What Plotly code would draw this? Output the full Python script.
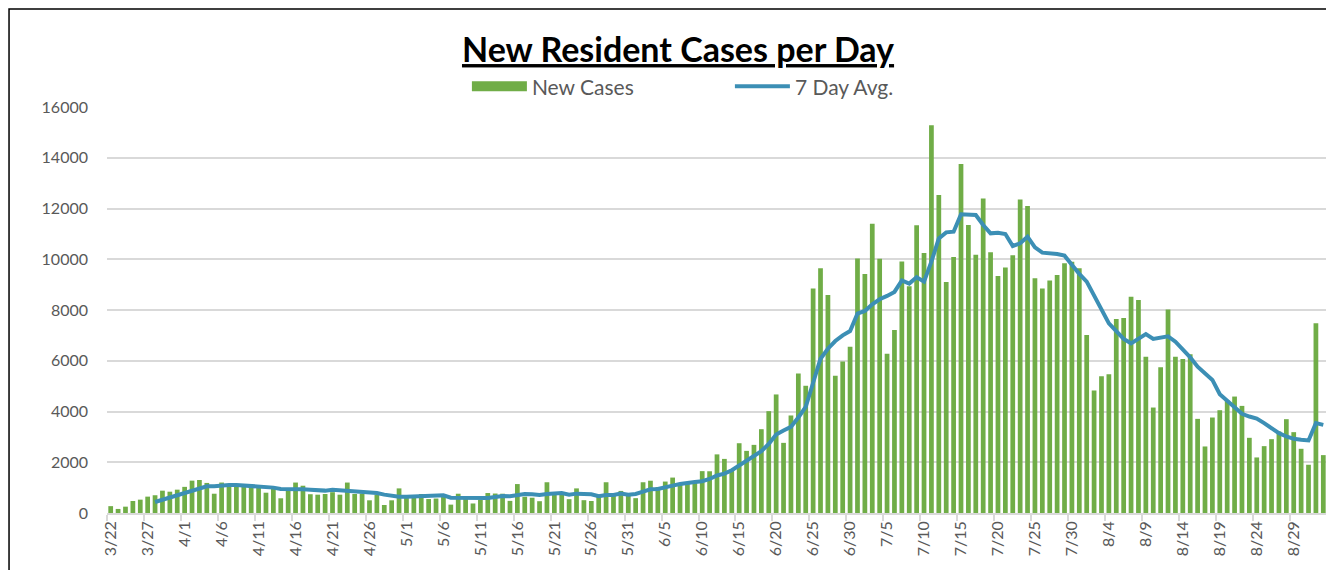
import plotly.graph_objects as go

# Daily new resident cases, one value per day from 3/22 to 9/2
new_cases = [
    270, 160, 250, 474, 526, 645, 700, 880, 840, 920,
    1030, 1275, 1300, 1185, 760, 1200, 1030, 1120, 1120, 1050,
    1030, 800, 990, 580, 950, 1200, 1075, 740, 722, 748,
    820, 722, 1200, 748, 770, 500, 722, 316, 500, 970,
    620, 620, 748, 550, 570, 675, 330, 760, 565, 375,
    525, 787, 767, 760, 478, 1140, 640, 603, 465, 1212,
    722, 750, 545, 970, 505, 472, 700, 1212, 722, 870,
    735, 585, 1212, 1272, 1023, 1239, 1396, 1110, 1158, 1184,
    1650, 1645, 2310, 2132, 1711, 2750, 2448, 2685, 3303, 4014,
    4672, 2764, 3843, 5500, 5014, 8843, 9646, 8593, 5409, 5975,
    6554, 10028, 9423, 11397, 10015, 6277, 7212, 9910, 8935, 11340,
    10247, 15285, 12530, 9105, 10089, 13750, 11349, 10181, 12398, 10273,
    9341, 9670, 10155, 12359, 12097, 9250, 8843, 9158, 9381, 9840,
    9905, 9643, 7019, 4828, 5390, 5469, 7646, 7682, 8522, 8390,
    6162, 4156, 5742, 8023, 6162, 6070, 6253, 3710, 2622, 3763,
    4051, 4440, 4589, 4221, 2963, 2189, 2635, 2910, 3212, 3697,
    3186, 2530, 1901, 7473, 2281,
]

# 7 day average (starts on the 7th day, 3/28)
avg_start = 6
seven_day_avg = [
    434, 526, 605, 684, 763, 868, 974, 1053, 1053, 1092,
    1105, 1105, 1079, 1053, 1053, 1040, 1000, 948, 948, 960,
    934, 915, 895, 882, 915, 895, 908, 855, 855, 829,
    790, 724, 671, 645, 645, 658, 671, 671, 684, 697,
    605, 605, 592, 566, 566, 592, 632, 671, 658, 710,
    750, 737, 710, 750, 763, 790, 724, 763, 750, 737,
    658, 710, 710, 763, 724, 750, 842, 934, 948, 1000,
    1079, 1145, 1198, 1224, 1250, 1340, 1480, 1553, 1684, 1882,
    2079, 2237, 2435, 2724, 3093, 3250, 3395, 3764, 4185, 5132,
    6080, 6475, 6777, 7001, 7172, 7857, 7962, 8225, 8422, 8554,
    8712, 9165, 9040, 9290, 9118, 9906, 10824, 11060, 11086, 11769,
    11769, 11742, 11349, 11021, 11047, 10995, 10522, 10627, 10890, 10470,
    10260, 10234, 10208, 10142, 9774, 9420, 9118, 8567, 8080, 7475,
    7165, 6857, 6686, 6883, 7053, 6857, 6909, 6961, 6752, 6463,
    6135, 5768, 5506, 5244, 4680, 4418, 4169, 3907, 3802, 3723,
    3540, 3343, 3146, 3015, 2923, 2884, 2858, 3540, 3474,
]

tick_labels = [
    "3/22", "3/27", "4/1", "4/6", "4/11", "4/16", "4/21", "4/26",
    "5/1", "5/6", "5/11", "5/16", "5/21", "5/26", "5/31",
    "6/5", "6/10", "6/15", "6/20", "6/25", "6/30",
    "7/5", "7/10", "7/15", "7/20", "7/25", "7/30",
    "8/4", "8/9", "8/14", "8/19", "8/24", "8/29",
]
label_step = 5

n = len(new_cases)
days = list(range(n))
avg_full = [None] * avg_start + seven_day_avg

GREEN = "#70AD47"
BLUE = "#3C8FB5"
GRID = "#D9D9D9"
TXT = "#595959"
FONT = "Lato, Open Sans, sans-serif"

fig = go.Figure()
fig.add_trace(go.Bar(
    x=days, y=new_cases, name="New Cases",
    marker=dict(color=GREEN, line=dict(width=0)),
    showlegend=False,
))
# legend swatch for the bars (wide rectangle like the original)
fig.add_trace(go.Scatter(
    x=[None], y=[None], mode="lines", name="New Cases",
    line=dict(color=GREEN, width=14),
))
fig.add_trace(go.Scatter(
    x=days, y=avg_full, mode="lines", name="7 Day Avg.",
    line=dict(color=BLUE, width=4),
    connectgaps=False,
))

tickvals = list(range(0, n, label_step))[:len(tick_labels)]
boundaries = [v - 0.5 for v in range(0, n + 1, label_step)]
if boundaries[-1] < n - 0.5:
    boundaries.append(n - 0.5)

W, H = 1326, 562
ML, MR, MT, MB = 99, 7, 99, 57

fig.update_layout(
    width=W, height=H,
    margin=dict(l=ML, r=MR, t=MT, b=MB, autoexpand=False),
    paper_bgcolor="white", plot_bgcolor="white",
    bargap=0.36,
    font=dict(family=FONT, color=TXT),
    title=dict(
        text="<b><u>New Resident Cases per Day</u></b>",
        x=0.5053, xanchor="center", xref="container",
        y=0.925, yanchor="middle", yref="container",
        font=dict(size=34, color="#000000", family=FONT),
    ),
    legend=dict(
        orientation="h", x=0.295, xanchor="left", y=1.05, yanchor="middle",
        font=dict(size=21, color=TXT, family=FONT),
        itemwidth=55, entrywidth=193, entrywidthmode="pixels",
        bgcolor="rgba(0,0,0,0)",
        traceorder="normal",
    ),
    xaxis=dict(
        range=[-0.5, n - 0.5],
        tickmode="array", tickvals=tickvals, ticktext=tick_labels,
        tickangle=-90, ticks="", showgrid=False,
        showline=True, linecolor=GRID, linewidth=1.5,
        tickfont=dict(size=16, color=TXT, family=FONT),
        minor=dict(tickmode="array", tickvals=boundaries, ticks="outside",
                   ticklen=6, tickcolor=GRID, tickwidth=1.5, showgrid=False),
        zeroline=False, fixedrange=True,
    ),
    yaxis=dict(
        range=[0, 16000], dtick=2000, tick0=0, tickformat="d",
        showgrid=True, gridcolor=GRID, gridwidth=1.5,
        zeroline=False, showline=False, ticks="",
        tickfont=dict(size=16, color=TXT, family=FONT),
        ticklabelstandoff=18,
    ),
    shapes=[dict(
        type="rect", xref="paper", yref="paper",
        x0=-0.0803, x1=1.0033, y0=-0.25, y1=1.2414,
        line=dict(color="#000000", width=1.5), fillcolor="rgba(0,0,0,0)",
        layer="above",
    )],
)

fig.write_html("out.html")
